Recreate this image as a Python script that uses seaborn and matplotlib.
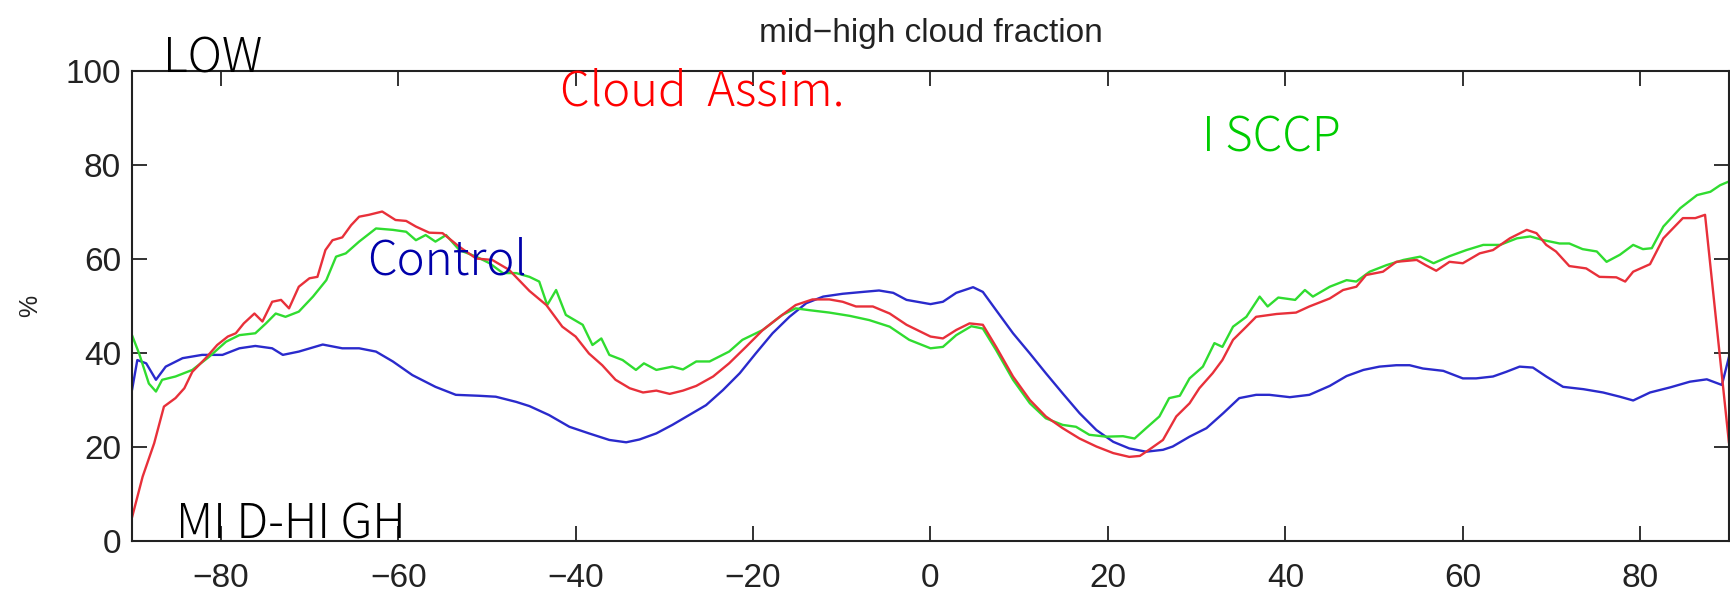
import matplotlib
matplotlib.use("Agg")
import matplotlib.pyplot as plt
import seaborn as sns
import pandas as pd

# ---------------- data ----------------
lat_assim = [-90, -88.8, -87.5, -86.4, -85.1, -84.1, -83.2, -81.7, -80.4, -79.2, -78.3, -77.4, -76.2, -75.3,
             -74.2, -73.2, -72.3, -71.2, -70.0, -69.1, -68.2, -67.4, -66.3, -65.3, -64.4, -63.3, -61.8, -60.3,
             -59.1, -58.0, -56.5, -55.0, -53.1, -51.2, -49.4, -47.5, -45.2, -43.3, -41.5, -40.0, -38.5, -37.0,
             -35.5, -33.9, -32.4, -30.9, -29.4, -27.9, -26.4, -24.5, -22.7, -20.8, -18.9, -17.0, -15.2, -13.3,
             -11.4, -9.9, -8.4, -6.5, -4.6, -2.7, 0, 1.4, 2.9, 4.4, 5.9, 7.4, 9.3, 11.2, 13.0, 14.9, 16.8, 18.7,
             20.6, 22.4, 23.6, 24.7, 26.2, 27.7, 29.2, 30.3, 31.8, 32.9, 34.1, 35.6, 36.7, 39.0, 41.2, 42.7,
             45.0, 46.5, 48.0, 49.1, 51.0, 52.5, 54.8, 55.8, 57.0, 58.5, 60.0, 61.9, 63.4, 65.3, 67.2, 68.3,
             69.4, 70.5, 72.0, 73.9, 75.4, 77.3, 78.3, 79.2, 81.1, 82.6, 84.8, 86.2, 87.3, 90.0]
assim = [5.0, 13.7, 20.8, 28.6, 30.4, 32.5, 36.0, 38.9, 41.7, 43.5, 44.2, 46.3, 48.4, 46.7,
         50.9, 51.3, 49.5, 54.1, 55.9, 56.2, 61.9, 64.0, 64.6, 67.2, 69.0, 69.4, 70.1, 68.3,
         68.1, 66.9, 65.6, 65.5, 62.6, 60.1, 59.8, 57.7, 53.2, 50.2, 45.6, 43.5, 39.9, 37.4,
         34.3, 32.5, 31.6, 32.0, 31.3, 32.0, 33.0, 35.0, 37.8, 41.3, 44.9, 47.7, 50.2, 51.4,
         51.4, 50.9, 49.9, 49.9, 48.4, 46.0, 43.5, 43.1, 44.9, 46.3, 46.0, 41.3, 35.0, 30.0, 26.5, 24.0, 21.8, 20.1,
         18.7, 17.9, 18.1, 19.5, 21.5, 26.5, 29.3, 32.5, 35.7, 38.5, 42.8, 45.6, 47.7, 48.3, 48.6, 49.9,
         51.6, 53.4, 54.1, 56.6, 57.3, 59.4, 59.8, 58.7, 57.5, 59.4, 59.1, 61.2, 61.9, 64.4, 66.2, 65.5,
         63.0, 61.6, 58.5, 58.0, 56.2, 56.1, 55.2, 57.3, 58.9, 64.4, 68.7, 68.7, 69.4, 20.8]

lat_isccp = [-90, -89.2, -88.1, -87.3, -86.6, -85.1, -83.2, -81.3, -79.4, -77.9, -76.1, -74.9, -73.8, -72.7,
             -71.2, -69.6, -68.1, -67.0, -65.9, -64.4, -62.5, -60.6, -59.1, -58.0, -56.9, -55.8, -54.6, -53.1,
             -51.2, -49.7, -48.2, -46.7, -45.2, -44.1, -43.2, -42.2, -41.1, -39.2, -38.1, -37.1, -36.2, -34.7,
             -33.2, -32.3, -30.9, -29.1, -27.9, -26.4, -24.9, -22.7, -21.2, -18.9, -16.7, -15.2, -13.6, -11.4,
             -9.1, -6.9, -4.6, -2.4, 0, 1.4, 2.9, 4.6, 5.9, 7.4, 9.3, 11.2, 13.0, 14.9, 16.4, 17.9, 19.8, 21.7,
             23.0, 24.3, 25.8, 26.9, 28.1, 29.2, 30.7, 32.0, 32.9, 34.1, 35.6, 37.1, 38.0, 39.2, 41.1, 42.2,
             43.1, 45.0, 46.9, 48.0, 49.5, 51.4, 53.3, 55.2, 56.7, 58.5, 60.4, 62.3, 64.2, 66.1, 67.6, 69.1,
             70.9, 72.0, 73.5, 75.1, 76.2, 77.7, 79.2, 80.3, 81.3, 82.6, 84.5, 86.4, 87.9, 89.0, 90.0]
isccp = [43.8, 39.9, 33.5, 31.8, 34.3, 35.0, 36.4, 39.2, 42.4, 43.8, 44.2, 46.3, 48.4, 47.7,
         48.8, 52.0, 55.5, 60.5, 61.2, 63.7, 66.5, 66.2, 65.8, 64.0, 65.1, 63.7, 65.1, 61.9,
         60.5, 59.1, 57.0, 57.0, 56.2, 55.2, 50.2, 53.4, 48.1, 46.0, 41.7, 43.1, 39.6, 38.5,
         36.4, 37.8, 36.4, 37.1, 36.5, 38.2, 38.2, 40.3, 42.8, 44.9, 48.1, 49.5, 49.1, 48.6,
         47.9, 47.0, 45.6, 42.8, 41.0, 41.3, 43.8, 45.7, 45.2, 40.6, 34.3, 29.3, 26.1, 24.7, 24.3, 22.6, 22.2, 22.3,
         21.8, 24.0, 26.5, 30.4, 30.9, 34.6, 37.1, 42.1, 41.3, 45.6, 47.7, 52.0, 49.9, 51.8, 51.3, 53.4,
         52.0, 54.1, 55.5, 55.2, 57.3, 58.7, 59.8, 60.5, 59.1, 60.6, 61.9, 63.0, 63.0, 64.4, 64.8, 64.0,
         63.3, 63.3, 62.1, 61.6, 59.4, 60.9, 63.0, 62.1, 62.3, 66.9, 70.8, 73.6, 74.3, 75.7, 76.5]

lat_control = [-90, -89.4, -88.4, -87.3, -86.2, -84.3, -82.1, -79.8, -77.9, -76.1, -74.2, -73.0, -71.2, -68.5,
               -66.3, -64.4, -62.5, -60.6, -58.4, -55.8, -53.5, -50.9, -49.0, -46.7, -45.2, -43.0, -40.7, -38.5,
               -36.2, -34.3, -32.8, -30.9, -29.1, -27.2, -25.3, -23.4, -21.5, -19.7, -17.8, -15.9, -14.0, -12.1,
               -9.9, -7.6, -5.8, -4.2, -2.7, 0, 1.4, 2.9, 4.8, 5.9, 7.4, 9.3, 11.2, 13.0, 14.9, 16.8, 18.7, 20.6,
               22.4, 24.3, 26.2, 27.3, 29.2, 31.1, 33.0, 34.8, 36.7, 38.2, 40.5, 42.7, 45.0, 46.9, 48.8, 50.6,
               52.5, 54.0, 55.5, 57.8, 60.0, 61.5, 63.4, 64.9, 66.4, 67.9, 69.4, 71.3, 73.6, 75.8, 77.7, 79.2,
               81.1, 83.4, 85.6, 87.5, 89.2, 90.0]
control = [32.1, 38.5, 37.8, 34.3, 37.1, 38.9, 39.6, 39.6, 41.0, 41.5, 41.0, 39.6, 40.3, 41.8,
           41.0, 41.0, 40.3, 38.2, 35.3, 32.8, 31.1, 30.9, 30.7, 29.6, 28.7, 26.8, 24.3, 22.9,
           21.5, 21.0, 21.6, 22.9, 24.7, 26.8, 28.9, 32.1, 35.7, 39.9, 44.2, 47.7, 50.6, 52.0,
           52.6, 53.0, 53.3, 52.8, 51.3, 50.4, 50.9, 52.8, 54.0, 53.0, 49.1, 44.2, 39.9, 35.7, 31.4, 27.2, 23.6, 21.1,
           19.7, 19.0, 19.4, 20.1, 22.2, 24.0, 27.2, 30.4, 31.1, 31.1, 30.6, 31.1, 33.0, 35.1, 36.4, 37.1,
           37.4, 37.4, 36.7, 36.2, 34.6, 34.6, 35.0, 36.0, 37.1, 36.9, 35.0, 32.8, 32.3, 31.6, 30.7, 29.9,
           31.6, 32.7, 33.9, 34.4, 33.2, 39.2]

x_ticks = [-80, -60, -40, -20, 0, 20, 40, 60, 80]
y_ticks = [0, 20, 40, 60, 80, 100]
title_text = "mid\u2212high cloud fraction"
labels = {"LOW": (-86.5, 99.6, "black"),
          "Cloud  Assim.": (-41.8, 92.6, "#ff0000"),
          "I SCCP": (30.6, 82.8, "#00cc00"),
          "Control": (-63.5, 56.6, "#0000aa"),
          "MI D-HI GH": (-85.0, 0.6, "black")}

# ---------------- plot ----------------
sns.set_style("ticks")
plt.rcParams["font.family"] = ["Liberation Sans", "DejaVu Sans"]

fig = plt.figure(figsize=(17.31, 5.97), dpi=100)
ax = fig.add_axes([132 / 1731, 56 / 597, 1597 / 1731, 470 / 597])

df_c = pd.DataFrame({"lat": lat_control, "val": control})
df_i = pd.DataFrame({"lat": lat_isccp, "val": isccp})
df_a = pd.DataFrame({"lat": lat_assim, "val": assim})

sns.lineplot(data=df_c, x="lat", y="val", ax=ax, color="#2a2acc", linewidth=1.7, estimator=None)
sns.lineplot(data=df_i, x="lat", y="val", ax=ax, color="#30dc30", linewidth=1.7, estimator=None)
sns.lineplot(data=df_a, x="lat", y="val", ax=ax, color="#e8303a", linewidth=1.7, estimator=None)

ax.set_xlim(-90, 90)
ax.set_ylim(0, 100)
ax.set_xticks(x_ticks)
ax.set_yticks(y_ticks)
ax.tick_params(direction="in", length=11, width=1.3, top=True, right=True,
               labelsize=24, colors="#222222", pad=8)
ax.tick_params(axis="x", pad=16)
for s in ax.spines.values():
    s.set_linewidth(1.5)
    s.set_color("#222222")
ax.set_xlabel("")
ax.set_ylabel("%", fontsize=18, color="#222222")
ax.yaxis.set_label_coords(-0.056, 0.5)
ax.set_title(title_text, fontsize=24, color="#222222", pad=21)

for txt, (x, y, c) in labels.items():
    ax.text(x, y, txt, color=c, fontsize=34, ha="left", va="baseline",
            family=["Noto Sans CJK JP", "DejaVu Sans"], fontweight="light", clip_on=False)

fig.savefig("out.png", dpi=100)
